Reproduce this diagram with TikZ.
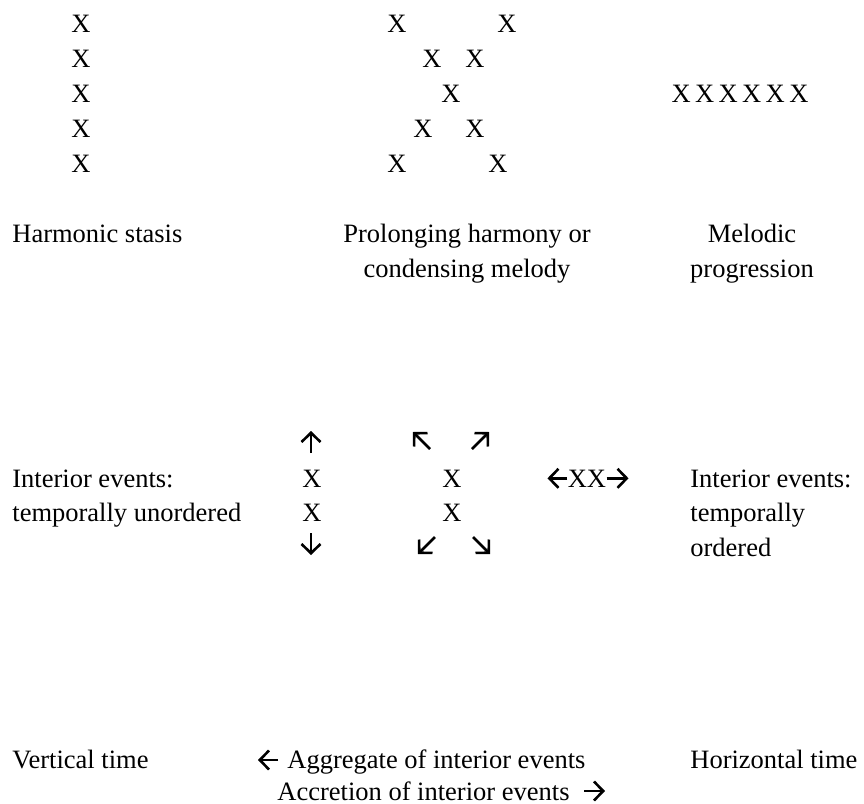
\documentclass[tikz,border=0pt]{standalone}
\usepackage{fontspec}
\setmainfont{Liberation Serif}
\usetikzlibrary{arrows.meta}

\begin{document}
\begin{tikzpicture}[x=0.5pt, y=-0.5pt,
  font=\fontsize{13.25}{17.25}\selectfont,
  every node/.style={inner sep=0pt},
  ev/.style={anchor=base},
  lbl/.style={anchor=base west},
  glyph/.style={line width=1.3pt, -{Straight Barb[length=4.6pt, width=9.5pt]}}]
  % page in pixel units: 864 x 804, y grows downwards
  \useasboundingbox (0,0) rectangle (864,804);
  % ============= Row 1: three patterns of X =============
  % harmonic stasis: one column
  \foreach \r in {0,...,4}
    \node[ev] (stasis\r) at (81, 32+35*\r) {X};
  % prolonging harmony / condensing melody
  \foreach \n/\x/\r in {a/397/0, b/507/0, c/432/1, d/475/1, e/451/2,
                        f/423/3, g/475/3, h/397/4, i/498/4}
    \node[ev] (prolong\n) at (\x, 32+35*\r) {X};
  % melodic progression: one row
  \node[ev] (melodic) at (740,102) {X\,X\,X\,X\,X\,X};
  % labels
  \node[lbl] (stasislbl) at (12,242) {Harmonic stasis};
  \node[ev] (prolonglbl1) at (467,242) {Prolonging harmony or};
  \node[ev] (prolonglbl2) at (467,277) {condensing melody};
  \node[ev] (melodiclbl1) at (752,242) {Melodic};
  \node[ev] (melodiclbl2) at (752,277) {progression};
  % ============= Row 2: interior events =============
  \node[lbl] (unordlbl1) at (12,487) {Interior events:};
  \node[lbl] (unordlbl2) at (12,521) {temporally unordered};
  % vertical pair
  \node[ev] (vert1) at (312,487) {X};
  \node[ev] (vert2) at (312,521) {X};
  \draw[glyph] (311,453) -- (311,431);
  \draw[glyph] (311,533) -- (311,555);
  % pair with diagonal arrows
  \node[ev] (diag1) at (452,487) {X};
  \node[ev] (diag2) at (452,521) {X};
  \draw[glyph] (430,449) -- (413,432);
  \draw[glyph] (472,449) -- (489,432);
  \draw[glyph] (435,537) -- (418,554);
  \draw[glyph] (473,537) -- (490,554);
  % horizontal pair
  \node[ev] (horiz) at (587,487) {XX};
  \draw[glyph] (horiz.west) -- ++(-20,0);
  \draw[glyph] (horiz.east) -- ++(22,0);
  \node[lbl] (ordlbl1) at (690,487) {Interior events:};
  \node[lbl] (ordlbl2) at (690,521) {temporally};
  \node[lbl] (ordlbl3) at (690,556) {ordered};
  % ============= Row 3: time =============
  \node[lbl] (vtime) at (12,768) {Vertical time};
  \node[lbl] (aggregate) at (287,768) {Aggregate of interior events};
  \node[lbl] (accretion) at (277,800) {Accretion of interior events};
  \node[lbl] (htime) at (690,768) {Horizontal time};
  \draw[glyph] (278,760) -- (258,760);
  \draw[glyph] (584,791) -- (605,791);
\end{tikzpicture}
\end{document}
